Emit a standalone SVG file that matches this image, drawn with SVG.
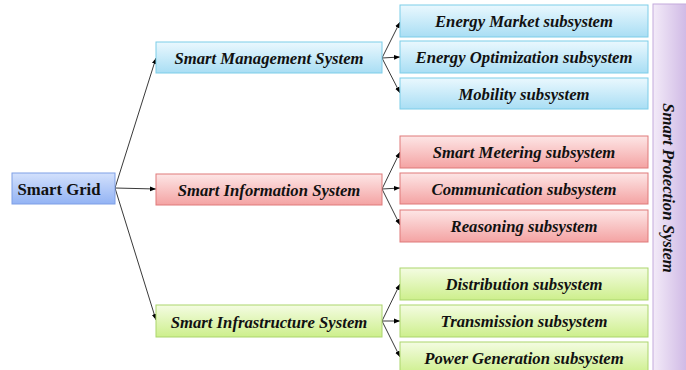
<svg xmlns="http://www.w3.org/2000/svg" width="686" height="370" viewBox="0 0 686 370">
<defs>
<linearGradient id="gBlue" x1="0" y1="0" x2="0" y2="1"><stop offset="0" stop-color="#eaf8fe"/><stop offset="1" stop-color="#a9def4"/></linearGradient>
<linearGradient id="gGrid" x1="0" y1="0" x2="0" y2="1"><stop offset="0" stop-color="#d3e1fc"/><stop offset="1" stop-color="#93b3f4"/></linearGradient>
<linearGradient id="gRed" x1="0" y1="0" x2="0" y2="1"><stop offset="0" stop-color="#fde6e6"/><stop offset="1" stop-color="#f4a3a3"/></linearGradient>
<linearGradient id="gGreen" x1="0" y1="0" x2="0" y2="1"><stop offset="0" stop-color="#f4fce2"/><stop offset="1" stop-color="#cdef8c"/></linearGradient>
<linearGradient id="gPurple" x1="0" y1="0" x2="1" y2="0"><stop offset="0" stop-color="#f3ebf8"/><stop offset="1" stop-color="#c9b0e2"/></linearGradient>
<marker id="arr" viewBox="0 0 10 10" refX="10" refY="5" markerWidth="6" markerHeight="6" orient="auto" markerUnits="userSpaceOnUse"><path d="M0,1 L10,5 L0,9 Z" fill="#000"/></marker>
</defs>
<style>
text{font-family:"Liberation Serif","Times New Roman",serif;font-weight:bold;font-style:italic;font-size:16.7px;fill:#111;text-anchor:middle;dominant-baseline:central}
.blue{fill:url(#gBlue);stroke:#7ccde8;stroke-width:1}
.grid{fill:url(#gGrid);stroke:#7f9fe6;stroke-width:1}
.red{fill:url(#gRed);stroke:#df7a7a;stroke-width:1}
.green{fill:url(#gGreen);stroke:#abd56d;stroke-width:1}
.purple{fill:url(#gPurple);stroke:#c3a9dc;stroke-width:1}
.c{fill:none;stroke:#222;stroke-width:0.9;marker-end:url(#arr)}
</style>
<rect width="686" height="370" fill="#fff"/>
<g id="connectors">
<path class="c" d="M115,188 L156,58"/>
<path class="c" d="M115,188 L156,189"/>
<path class="c" d="M115,188 L156,320"/>
<path class="c" d="M382,58 L400,22"/>
<path class="c" d="M382,58 L400,57"/>
<path class="c" d="M382,58 L400,93"/>
<path class="c" d="M382,189 L400,152"/>
<path class="c" d="M382,189 L400,188"/>
<path class="c" d="M382,189 L400,225"/>
<path class="c" d="M382,321 L400,284"/>
<path class="c" d="M382,321 L400,321"/>
<path class="c" d="M382,321 L400,357"/>
</g>
<g id="smart-grid"><rect class="grid" x="12" y="173" width="103" height="31"/><text x="59" y="189" style="font-style:normal">Smart Grid</text></g>
<g id="sms"><rect class="blue" x="156" y="42" width="226" height="31"/><text x="269" y="58">Smart Management System</text></g>
<g id="sis"><rect class="red" x="156" y="174" width="226" height="31"/><text x="269" y="190">Smart Information System</text></g>
<g id="sifs"><rect class="green" x="156" y="305" width="226" height="32"/><text x="269" y="322">Smart Infrastructure System</text></g>
<g id="energy-market"><rect class="blue" x="400" y="5" width="248" height="32"/><text x="524" y="21">Energy Market subsystem</text></g>
<g id="energy-opt"><rect class="blue" x="400" y="41" width="248" height="32"/><text x="524" y="57">Energy Optimization subsystem</text></g>
<g id="mobility"><rect class="blue" x="400" y="78" width="248" height="31"/><text x="524" y="94">Mobility subsystem</text></g>
<g id="metering"><rect class="red" x="400" y="136" width="248" height="32"/><text x="524" y="152">Smart Metering subsystem</text></g>
<g id="communication"><rect class="red" x="400" y="173" width="248" height="31"/><text x="524" y="189">Communication subsystem</text></g>
<g id="reasoning"><rect class="red" x="400" y="210" width="248" height="32"/><text x="524" y="226">Reasoning subsystem</text></g>
<g id="distribution"><rect class="green" x="400" y="268" width="248" height="32"/><text x="524" y="284">Distribution subsystem</text></g>
<g id="transmission"><rect class="green" x="400" y="305" width="248" height="32"/><text x="524" y="321">Transmission subsystem</text></g>
<g id="power-gen"><rect class="green" x="400" y="342" width="248" height="32"/><text x="524" y="358">Power Generation subsystem</text></g>
<g id="protection"><rect class="purple" x="653" y="4" width="40" height="370"/><text x="0" y="0" transform="translate(668,188) rotate(90)">Smart Protection System</text></g>
</svg>
